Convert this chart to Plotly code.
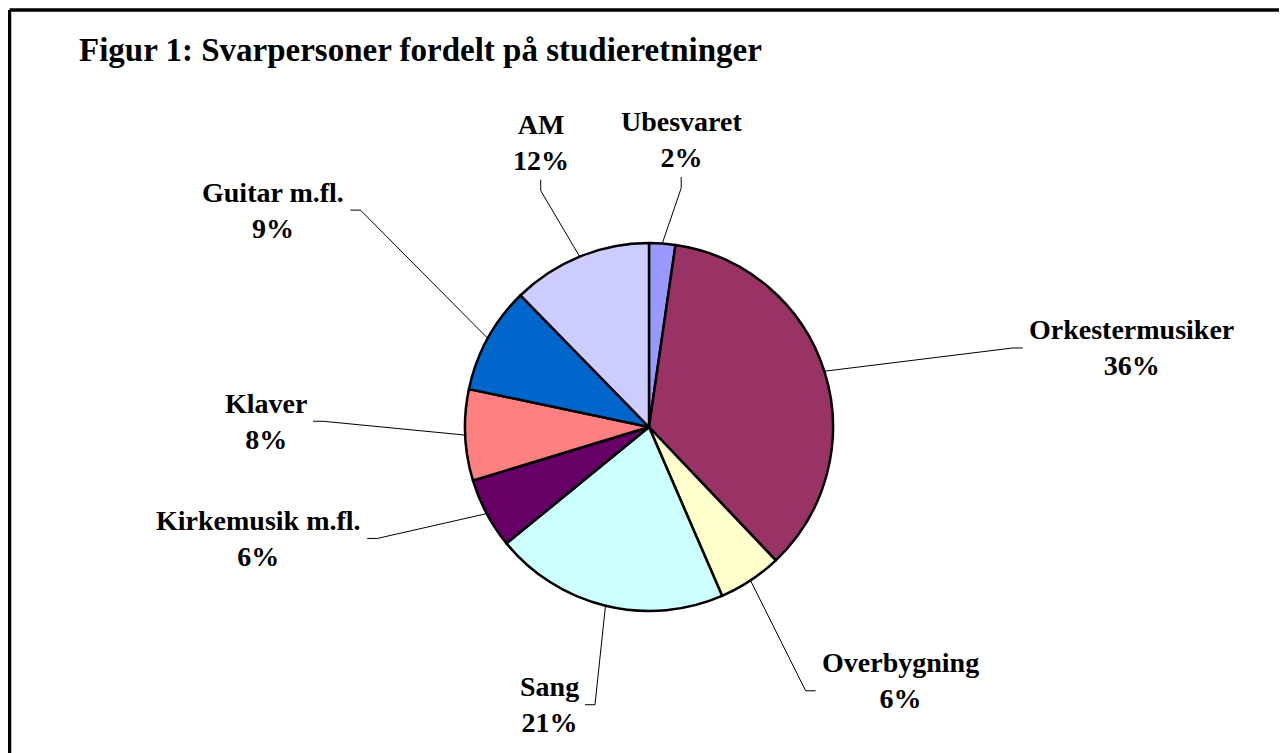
import math
import plotly.graph_objects as go

# ---- data ----
categories = ["Ubesvaret", "Orkestermusiker", "Overbygning", "Sang",
              "Kirkemusik m.fl.", "Klaver", "Guitar m.fl.", "AM"]
values = [2.3, 35.6, 5.6, 20.6, 6.2, 8.0, 9.4, 12.3]
colors = ["#9999FF", "#993366", "#FFFFCC", "#CCFFFF",
          "#660066", "#FF8080", "#0066CC", "#CCCCFF"]
title_text = "Figur 1: Svarpersoner fordelt på studieretninger"

# ---- layout parameters ----
W, H = 1287, 753
OFF = 8                      # page body margin compensation
CX, CY, R = 649, 427, 184
label_r = [252, 382, 312, 285, 303, 336, 369, 270]      # distance of leader end from centre
label_da = [3.2, 5.7, 1.2, -0.7, 6.5, 3.5, 7.2, -1.5]    # angular shift from slice middle
label_side = ["top", "right", "right", "left", "left", "left", "left", "top"]
label_dy = [0, 0, -10, 0, 0, 0, 0, 0]
FONT = "Liberation Serif"

total = sum(values)
pcts = [int(100 * v / total + 0.5) for v in values]

fig = go.Figure()

pcx, pcy = CX - OFF, CY - OFF
fig.add_trace(go.Pie(
    labels=categories, values=values, sort=False, direction="clockwise",
    rotation=0, textinfo="none", hoverinfo="label+percent",
    marker=dict(colors=colors, line=dict(color="black", width=2.5)),
    domain=dict(x=[(pcx - R) / W, (pcx + R) / W], y=[1 - (pcy + R) / H, 1 - (pcy - R) / H]),
    showlegend=False,
))

annotations = []
cum = 0.0
for i, (cat, v) in enumerate(zip(categories, values)):
    mid = (cum + v / 2) / total * 360.0
    cum += v
    a = math.radians(mid)
    sx, sy = CX + R * math.sin(a), CY - R * math.cos(a)
    b = math.radians(mid + label_da[i])
    ex, ey = CX + label_r[i] * math.sin(b), CY - label_r[i] * math.cos(b)
    side = label_side[i]
    if side == "right":
        kx, ky = ex - 10, ey
        ann = dict(x=ex + 4, y=ey + label_dy[i], xanchor="left", yanchor="middle")
    elif side == "left":
        kx, ky = ex + 10, ey
        ann = dict(x=ex - 4, y=ey + label_dy[i], xanchor="right", yanchor="middle")
    else:
        kx, ky = ex, ey + 11
        ann = dict(x=ex, y=ey - 2 + label_dy[i], xanchor="center", yanchor="bottom")
    fig.add_trace(go.Scatter(x=[sx, kx, ex], y=[sy, ky, ey], mode="lines",
                             line=dict(color="black", width=1), hoverinfo="skip",
                             showlegend=False))
    ann.update(text=f"{cat}<br>{pcts[i]}%", showarrow=False, xref="x", yref="y",
               align="center", font=dict(family=FONT, size=28, color="black", weight="bold"))
    annotations.append(ann)

annotations.append(dict(text=title_text, x=77, y=50, xref="x", yref="y",
                        xanchor="left", yanchor="middle", showarrow=False,
                        font=dict(family=FONT, size=33, color="black", weight="bold")))

BX, BY = OFF + 1.5, 10
shapes = [
    dict(type="line", xref="x", yref="y", x0=BX, y0=BY, x1=BX, y1=H + OFF, line=dict(color="black", width=3.5)),
    dict(type="line", xref="x", yref="y", x0=BX, y0=BY, x1=W + OFF, y1=BY, line=dict(color="black", width=3.5)),
]

fig.update_layout(
    width=W, height=H, autosize=False,
    margin=dict(l=0, r=0, t=0, b=0),
    paper_bgcolor="white", plot_bgcolor="white",
    xaxis=dict(range=[OFF, W + OFF], visible=False, fixedrange=True),
    yaxis=dict(range=[H + OFF, OFF], visible=False, fixedrange=True),
    annotations=annotations, shapes=shapes,
)

fig.write_html("out.html")
